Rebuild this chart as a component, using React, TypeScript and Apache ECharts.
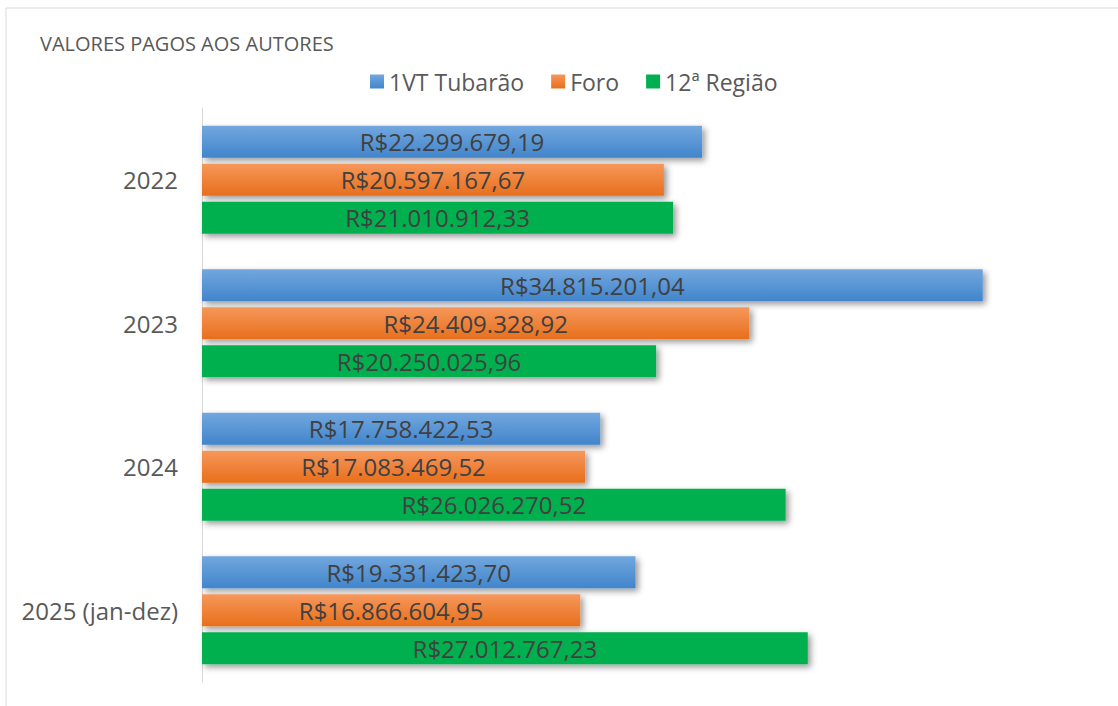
import React, { useEffect, useRef } from "react";
import * as echarts from "echarts";

const categories = ["2022", "2023", "2024", "2025 (jan-dez)"];
const seriesNames = ["1VT Tubarão", "Foro", "12ª Região"];
const tubarao = [22299679.19, 34815201.04, 17758422.53, 19331423.7];
const foro = [20597167.67, 24409328.92, 17083469.52, 16866604.95];
const regiao12 = [21010912.33, 20250025.96, 26026270.52, 27012767.23];
const titleText = "VALORES PAGOS AOS AUTORES";

const fmt = (v: number) => {
  const [i, d] = v.toFixed(2).split(".");
  return "R$" + i.replace(/\B(?=(\d{3})+(?!\d))/g, ".") + "," + d;
};

const FONT = "'Open Sans', sans-serif";

export default function App() {
  const ref = useRef<HTMLDivElement>(null);
  useEffect(() => {
    if (!ref.current) return;
    const chart = echarts.init(ref.current, null, { renderer: "svg" });
    const blue = new echarts.graphic.LinearGradient(0, 0, 0, 1, [
      { offset: 0, color: "#72a7de" },
      { offset: 1, color: "#4185cc" },
    ]);
    const orange = new echarts.graphic.LinearGradient(0, 0, 0, 1, [
      { offset: 0, color: "#f6975b" },
      { offset: 1, color: "#e86f1b" },
    ]);
    const green = "#00b050";
    const colors = [blue, orange, green];
    const data = [tubarao, foro, regiao12];
    chart.setOption({
      animation: false,
      backgroundColor: "#ffffff",
      textStyle: { fontFamily: FONT },
      title: {
        text: titleText,
        left: 40,
        top: 33,
        padding: 0,
        textStyle: { fontFamily: FONT, fontSize: 20, fontWeight: "normal", color: "#595959" },
      },
      legend: {
        data: seriesNames,
        left: 370,
        top: 70,
        padding: 0,
        itemWidth: 14,
        itemHeight: 14,
        itemGap: 27,
        icon: "rect",
        textStyle: { fontFamily: FONT, fontSize: 23, color: "#595959" },
      },
      graphic: [
        {
          type: "rect",
          shape: { x: 6, y: 8, width: 1200, height: 800 },
          style: { fill: "none", stroke: "#d9d9d9", lineWidth: 1 },
          silent: true,
          z: -1,
        },
      ],
      grid: { left: 202, top: 108, width: 897, height: 574 },
      xAxis: {
        type: "value",
        min: 0,
        max: 40000000,
        show: false,
        splitLine: { show: false },
      },
      yAxis: {
        type: "category",
        data: categories,
        inverse: true,
        axisLine: { show: true, lineStyle: { color: "#d9d9d9", width: 1 } },
        axisTick: { show: false },
        axisLabel: { margin: 24, fontFamily: FONT, fontSize: 24, color: "#595959" },
      },
      series: seriesNames.map((name, i) => ({
        name,
        type: "bar",
        data: data[i],
        barWidth: 32,
        barGap: "19%",
        itemStyle: {
          color: colors[i],
          shadowColor: "rgba(0,0,0,0.4)",
          shadowBlur: 6,
          shadowOffsetX: 3,
          shadowOffsetY: 3,
        },
        label: {
          show: true,
          position: "inside",
          formatter: (p: any) => fmt(p.value),
          fontFamily: FONT,
          fontSize: 24,
          color: "#404040",
        },
      })),
    });
    return () => chart.dispose();
  }, []);
  return (
    <div
      ref={ref}
      style={{ position: "fixed", left: 0, top: 0, width: 1118, height: 706 }}
    />
  );
}
